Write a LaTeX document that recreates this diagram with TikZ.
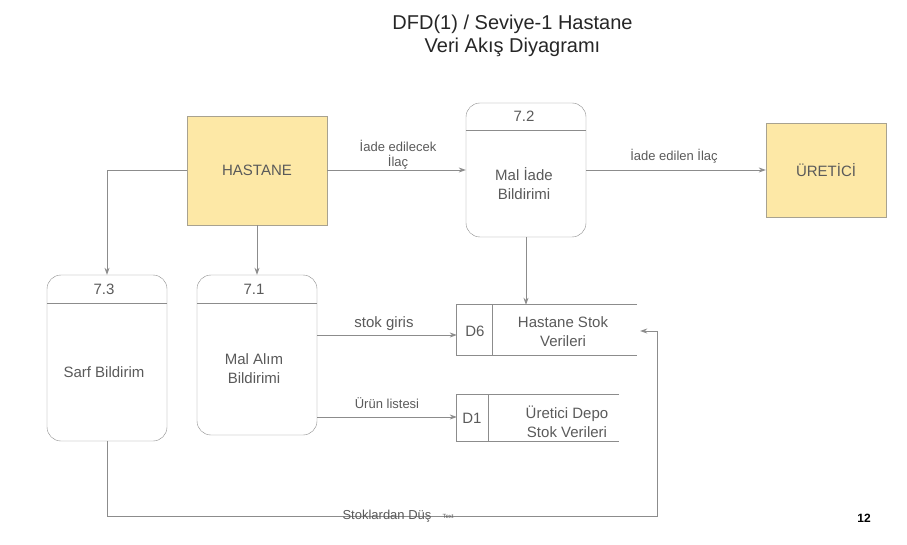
\documentclass[tikz,border=0pt]{standalone}
\usepackage{fontspec}
\setmainfont{Liberation Sans}
\usetikzlibrary{arrows.meta,calc}
\definecolor{lnc}{HTML}{8C8C8C}
\definecolor{txc}{HTML}{5A5A5A}
\definecolor{entfill}{HTML}{FDE8A6}
\definecolor{entdraw}{HTML}{A8A290}
\begin{document}
\begin{tikzpicture}[x=1pt,y=-1pt,
  entity/.style={draw=entdraw, fill=entfill, inner sep=0pt, text=txc, font=\fontsize{15}{18}\selectfont},
  proc/.style={draw=lnc, rounded corners=14pt, inner sep=0pt, fill=white},
  store/.style={inner sep=0pt},
  ptxt/.style={text=txc, font=\fontsize{15}{19}\selectfont, align=center, inner sep=0pt},
  lbl/.style={text=txc, font=\fontsize{13}{15}\selectfont, align=center, inner sep=0pt},
  flow/.style={draw=lnc, line width=0.8pt, -{Stealth[length=7pt,width=5pt]}},
  plain/.style={draw=lnc, line width=0.8pt}
]
\useasboundingbox (0,0) rectangle (907,545);

% title
\node[font=\fontsize{20}{23}\selectfont, text=black!85, align=center] (title) at (512.5,36) {DFD(1) / Seviye-1 Hastane\\Veri Akış Diyagramı};

% external entities
\node[entity, minimum width=140pt, minimum height=109pt] (hosp) at (257,170.5) {HASTANE};
\node[entity, minimum width=120pt, minimum height=94pt] (uret) at (826,170) {ÜRETİCİ};

% process 7.2
\node[proc, minimum width=120pt, minimum height=134pt] (p72) at (526,170) {};
\draw[plain] ([yshift=-28pt]p72.north west) -- ([yshift=-28pt]p72.north east);
\node[ptxt] (n72) at (524,116) {7.2};
\node[ptxt] (t72) at (524,184) {Mal İade\\ Bildirimi};

% process 7.3
\node[proc, minimum width=120pt, minimum height=166pt] (p73) at (107,358) {};
\draw[plain] ([yshift=-29pt]p73.north west) -- ([yshift=-29pt]p73.north east);
\node[ptxt] (n73) at (104,289) {7.3};
\node[ptxt] (t73) at (104,372) {Sarf Bildirim};

% process 7.1
\node[proc, minimum width=120pt, minimum height=160pt] (p71) at (257,355) {};
\draw[plain] ([yshift=-29pt]p71.north west) -- ([yshift=-29pt]p71.north east);
\node[ptxt] (n71) at (254,289) {7.1};
\node[ptxt] (t71) at (254,369) {Mal Alım\\ Bildirimi};

% data store D6
\node[store, minimum width=180pt, minimum height=50pt] (d6) at (547,330) {};
\draw[plain] (d6.north east) -- (d6.north west) -- (d6.south west) -- (d6.south east);
\draw[plain] ([xshift=36pt]d6.north west) -- ([xshift=36pt]d6.south west);
\node[ptxt] (d6id) at (475,331) {D6};
\node[ptxt] (d6t) at (563,332) {Hastane Stok\\ Verileri};

% data store D1
\node[store, minimum width=162pt, minimum height=46pt] (d1) at (538,418) {};
\draw[plain] (d1.north east) -- (d1.north west) -- (d1.south west) -- (d1.south east);
\draw[plain] ([xshift=32pt]d1.north west) -- ([xshift=32pt]d1.south west);
\node[ptxt] (d1id) at (472,418) {D1};
\node[ptxt] (d1t) at (567,422) {Üretici Depo\\ Stok Verileri};

% flows
\draw[flow] (hosp.east |- p72.west) -- (p72.west);
\node[lbl] (l1) at (398,154.5) {İade edilecek\\ İlaç};

\draw[flow] (p72.east) -- (uret.west);
\node[lbl] (l2) at (674,156) {İade edilen İlaç};

\draw[flow] (hosp.west |- p72.west) -| (p73.north);
\draw[flow] (hosp.south) -- (p71.north);
\draw[flow] (p72.south) -- (p72.south |- d6.north);

\draw[flow] ([yshift=20pt]p71.east) -- ([yshift=20pt]p71.east -| d6.west);
\node[lbl, font=\fontsize{15}{17}\selectfont] (l3) at (384,324) {stok giris};

\draw[flow] ([yshift=-62pt]p71.east) -- ([yshift=-62pt]p71.east -| d1.west);
\node[lbl] (l4) at (387,403) {Ürün listesi};

\coordinate (c2) at (657,516);
\coordinate (d6in) at ([xshift=3pt,yshift=-1pt]d6.east);
\draw[flow] (p73.south) |- (c2) |- (d6in);
\node[lbl] (l5) at (387,516) {Stoklardan Düş};
\node[text=txc, font=\fontsize{6}{7}\selectfont, inner sep=0pt] (l6) at (448,516) {Text};

\node[font=\bfseries\fontsize{12}{14}\selectfont, text=black] (pg) at (864,518) {12};
\end{tikzpicture}
\end{document}
